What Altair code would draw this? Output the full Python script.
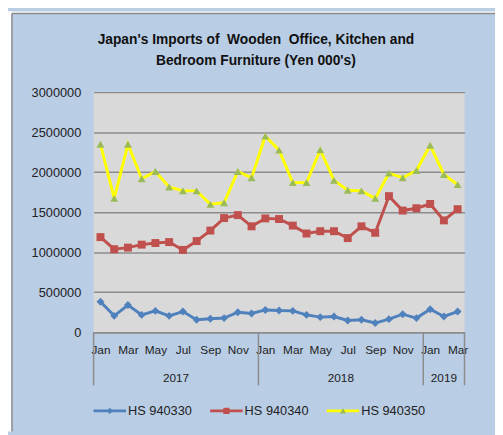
import json
import altair as alt
import pandas as pd

# ---------------- data ----------------
months = ["Jan", "Feb", "Mar", "Apr", "May", "Jun", "Jul", "Aug", "Sep", "Oct", "Nov", "Dec"] * 2 + ["Jan", "Feb", "Mar"]
years = ["2017"] * 12 + ["2018"] * 12 + ["2019"] * 3
series_names = ["HS 940330", "HS 940340", "HS 940350"]

hs940330 = [381000, 204000, 340000, 216000, 266000, 204000, 258000, 155000, 167000, 176000, 250000, 234000,
            278000, 270000, 266000, 216000, 188000, 196000, 147000, 155000, 114000, 163000, 225000, 176000,
            287000, 196000, 258000]
hs940340 = [1188000, 1037000, 1057000, 1094000, 1114000, 1126000, 1028000, 1139000, 1270000, 1426000, 1463000, 1323000,
            1422000, 1414000, 1332000, 1233000, 1262000, 1262000, 1176000, 1323000, 1242000, 1700000, 1520000, 1549000,
            1602000, 1397000, 1537000]
hs940350 = [2348000, 1672000, 2348000, 1918000, 2008000, 1815000, 1766000, 1766000, 1598000, 1618000, 2008000, 1930000,
            2450000, 2275000, 1869000, 1869000, 2278000, 1897000, 1774000, 1766000, 1672000, 1987000, 1930000, 2020000,
            2336000, 1971000, 1844000]

title_lines = ["Japan's Imports of \u00a0Wooden \u00a0Office, Kitchen and", "Bedroom Furniture (Yen 000's)"]
y_ticks = [0, 500000, 1000000, 1500000, 2000000, 2500000, 3000000]

# ---------------- tables ----------------
values = [hs940330, hs940340, hs940350]
rows = []
for name, vals in zip(series_names, values):
    for i, v in enumerate(vals):
        rows.append({"idx": i, "series": name, "value": v})
df = pd.DataFrame(rows)

n = len(months)
groups = []
start = 0
for i in range(1, n + 1):
    if i == n or years[i] != years[start]:
        groups.append((years[start], start, i - 1))
        start = i
bounds = [g[1] - 0.5 for g in groups] + [n - 0.5]
df_div = pd.DataFrame({"b": bounds})
df_year = pd.DataFrame({"year": [g[0] for g in groups], "c": [(g[1] + g[2]) / 2 for g in groups]})

# ---------------- style ----------------
W, H = 377, 244
FONT = "Liberation Sans"
GRID = "#8C8C8C"
line_colors = ["#4F81BD", "#C0504D", "#FFFF00"]
marker_colors = ["#4F81BD", "#C0504D", "#9BBB59"]
shapes = ["diamond", "square", "triangle-up"]

xscale = alt.Scale(domain=[-0.5, n - 0.5], nice=False, zero=False)
color_scale = alt.Scale(domain=series_names, range=line_colors)
fill_scale = alt.Scale(domain=series_names, range=marker_colors)
shape_scale = alt.Scale(domain=series_names, range=shapes)


def x_axis():
    return alt.Axis(values=list(range(0, n, 2)),
                    labelExpr=json.dumps(months) + "[datum.value]",
                    grid=False, ticks=False, domain=True, domainColor=GRID, domainWidth=1.5,
                    labelFontSize=12, labelPadding=13, labelColor="#222", labelFont=FONT,
                    labelFlush=False, labelOverlap=False, labelBound=False)


y_enc = alt.Y("value:Q", scale=alt.Scale(domain=[0, 3000000], nice=False, zero=True), title=None,
              axis=alt.Axis(values=y_ticks, format="d", grid=True, gridColor=GRID, gridWidth=1.5,
                            domain=False, ticks=False, labelPadding=13, labelFontSize=13,
                            labelColor="#222", labelFont=FONT))

base = alt.Chart(df)
one = pd.DataFrame({"k": [0]})

# white page strip + box border (outside plot)
strip_left = alt.Chart(one).mark_rect(color="white").encode(
    x=alt.value(-87), x2=alt.value(-83), y=alt.value(-82), y2=alt.value(H + 101))
strip_top = alt.Chart(one).mark_rect(color="white").encode(
    x=alt.value(-87), x2=alt.value(W + 31), y=alt.value(-82), y2=alt.value(-80))
border_left = alt.Chart(one).mark_rule(color="#8A8A8A", strokeWidth=1.5).encode(
    x=alt.value(-83), y=alt.value(-80), y2=alt.value(H + 101))
border_top = alt.Chart(one).mark_rule(color="#8A8A8A", strokeWidth=1.5).encode(
    x=alt.value(-83), x2=alt.value(W + 31), y=alt.value(-80))

lines = base.mark_line(strokeWidth=3).encode(
    x=alt.X("idx:Q", scale=xscale, title=None, axis=x_axis()), y=y_enc,
    color=alt.Color("series:N", scale=color_scale, legend=None),
    order=alt.Order("idx:Q"))
points = base.mark_point(filled=True, size=65, opacity=1, strokeWidth=0).encode(
    x=alt.X("idx:Q", scale=xscale, title=None, axis=x_axis()), y=y_enc,
    fill=alt.Fill("series:N", scale=fill_scale, legend=None),
    shape=alt.Shape("series:N", scale=shape_scale, legend=None))

dividers = alt.Chart(df_div).mark_rule(color=GRID, strokeWidth=1.5).encode(
    x=alt.X("b:Q", scale=xscale, title=None, axis=x_axis()), y=alt.value(H), y2=alt.value(H + 54))
year_text = alt.Chart(df_year).mark_text(fontSize=12, font=FONT, color="#222", baseline="middle").encode(
    x=alt.X("c:Q", scale=xscale, title=None, axis=x_axis()), y=alt.value(H + 47), text="year:N")

title1 = alt.Chart(one).mark_text(fontSize=14, fontWeight="bold", font=FONT, color="#111",
                                  align="center", baseline="middle").encode(
    x=alt.value(165), y=alt.value(-53), text=alt.value(title_lines[0]))
title2 = alt.Chart(one).mark_text(fontSize=14, fontWeight="bold", font=FONT, color="#111",
                                  align="center", baseline="middle").encode(
    x=alt.value(165), y=alt.value(-32), text=alt.value(title_lines[1]))

# custom legend
leg = pd.DataFrame({"series": series_names})
leg["x0"] = [i * 118.5 for i in range(len(series_names))]
leg["x1"] = leg["x0"] + 33
leg["xm"] = leg["x0"] + 16.5
leg["xt"] = leg["x0"] + 35
LY = H + 80
leg_lines = alt.Chart(leg).mark_rule(strokeWidth=3).encode(
    x=alt.X("x0:Q", scale=None), x2="x1:Q", y=alt.value(LY),
    color=alt.Color("series:N", scale=color_scale, legend=None))
leg_points = alt.Chart(leg).mark_point(filled=True, size=40, opacity=1, strokeWidth=0).encode(
    x=alt.X("xm:Q", scale=None), y=alt.value(LY),
    fill=alt.Fill("series:N", scale=fill_scale, legend=None),
    shape=alt.Shape("series:N", scale=shape_scale, legend=None))
leg_text = alt.Chart(leg).mark_text(fontSize=13, font=FONT, color="#222", align="left", baseline="middle").encode(
    x=alt.X("xt:Q", scale=None), y=alt.value(LY), text="series:N")

chart = alt.layer(
    strip_left, strip_top, border_left, border_top,
    lines, points, dividers, year_text, title1, title2,
    leg_lines, leg_points, leg_text
).properties(
    width=W, height=H,
    autosize=alt.AutoSizeParams(type="none"),
    padding={"left": 87, "top": 82, "right": 31, "bottom": 101},
).configure(background="#B9CDE5").configure_view(fill="#D9D9D9", strokeWidth=0)

chart.save("out.html", embed_options={"renderer": "svg", "actions": False})
